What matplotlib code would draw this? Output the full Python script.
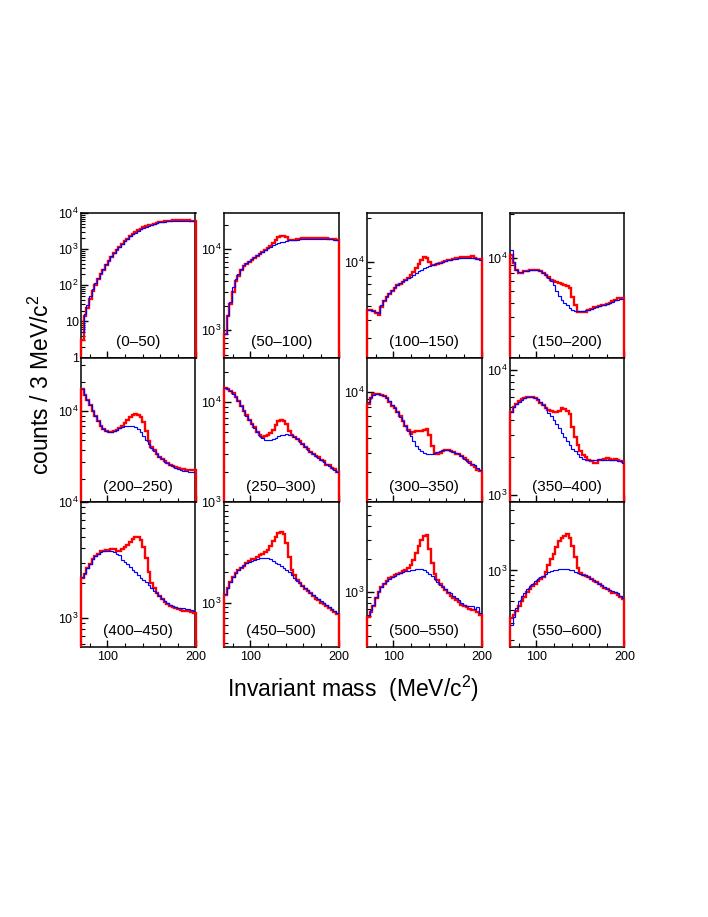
import numpy as np
import matplotlib
matplotlib.use("Agg")
import matplotlib.pyplot as plt
from matplotlib.ticker import FixedLocator, LogLocator, FuncFormatter, NullFormatter

plt.rcParams["font.family"] = ["Liberation Sans", "DejaVu Sans"]
plt.rcParams["mathtext.fontset"] = "custom"
plt.rcParams["mathtext.rm"] = "Liberation Sans"
plt.rcParams["mathtext.it"] = "Liberation Sans:italic"

# momentum bins (MeV/c), one panel each
labels = ["(0–50)", "(50–100)", "(100–150)", "(150–200)",
          "(200–250)", "(250–300)", "(300–350)", "(350–400)",
          "(400–450)", "(450–500)", "(500–550)", "(550–600)"]

# 43 mass bins from 70 to 200 MeV/c2, red = data, blue = background
red_0_50 = [3, 14, 24, 42, 70, 100, 145, 200, 270, 360, 470, 600, 760, 950, 1150, 1390, 1650, 1950, 2260,
            2600, 2950, 3350, 3700, 4000, 4250, 4520, 4800, 5050, 5300, 5550, 5700, 5850, 6000, 6150, 6250,
            6300, 6350, 6350, 6350, 6300, 6250, 6150, 5950]
blue_0_50 = [5, 16, 28, 50, 79, 112, 158, 214, 288, 380, 500, 630, 794, 977, 1175, 1410, 1660, 1950, 2240,
             2570, 2880, 3240, 3550, 3890, 4170, 4470, 4790, 5010, 5250, 5500, 5620, 5750, 5890, 6030, 6100,
             6170, 6170, 6170, 6170, 6170, 6100, 6030, 5890]

red_50_100 = [900, 1500, 2100, 3000, 4100, 4700, 5500, 6200, 6600, 7000, 7400, 7800, 8300, 8750, 9250, 9800,
              10400, 11000, 11800, 12800, 13900, 14500, 14600, 14000, 13100, 13000, 13100, 13300, 13500, 13600,
              13650, 13700, 13650, 13700, 13750, 13700, 13650, 13700, 13600, 13500, 13400, 13250, 13050]
blue_50_100 = [910, 1550, 2240, 3400, 4300, 5000, 5700, 6300, 6700, 7100, 7500, 7900, 8400, 8850, 9300, 9750,
               10200, 10700, 11100, 11500, 11800, 12100, 12400, 12600, 12850, 13000, 13050, 13100, 13180, 13250,
               13300, 13350, 13400, 13400, 13400, 13400, 13400, 13400, 13400, 13350, 13250, 13100, 12950]

red_100_150 = [4700, 4700, 4600, 4450, 4350, 4900, 5400, 5750, 6050, 6350, 6600, 6900, 7100, 7300, 7500, 7800,
               8100, 8500, 9000, 9700, 10300, 10700, 10600, 10000, 9500, 9500, 9700, 9850, 9950, 10100, 10250,
               10350, 10450, 10550, 10600, 10700, 10700, 10750, 10700, 10900, 10600, 10500, 10400]
blue_100_150 = [4700, 4680, 4620, 4560, 4480, 5100, 5500, 5800, 6100, 6400, 6700, 6950, 7150, 7350, 7500, 7700,
                7900, 8150, 8350, 8600, 8800, 9000, 9200, 9350, 9500, 9650, 9750, 9850, 9950, 10050, 10200,
                10300, 10400, 10500, 10550, 10600, 10650, 10650, 10650, 10600, 10550, 10450, 10350]

red_150_200 = [10500, 9300, 8400, 8000, 8000, 8150, 8250, 8350, 8400, 8400, 8300, 8200, 8000, 7750, 7450, 7150,
               7000, 6900, 6800, 6700, 6650, 6500, 6300, 5500, 4800, 4350, 4300, 4300, 4350, 4450, 4550, 4650,
               4700, 4750, 4800, 4850, 4900, 5000, 5150, 5250, 5350, 5400, 5350]
blue_150_200 = [11400, 9500, 8400, 8100, 8050, 8150, 8250, 8350, 8400, 8400, 8300, 8150, 7950, 7700, 7350, 7000,
                6600, 6000, 5600, 5200, 5000, 4800, 4600, 4450, 4400, 4400, 4400, 4420, 4450, 4480, 4550, 4630,
                4700, 4750, 4810, 4850, 4930, 5000, 5100, 5200, 5250, 5300, 5330]

red_200_250 = [17100, 14600, 13000, 11500, 10000, 8900, 7900, 7050, 6550, 6250, 6150, 6150, 6300, 6450, 6650,
               7000, 7600, 8100, 8700, 9200, 9300, 9250, 8700, 7700, 6200, 4900, 4300, 3950, 3650, 3400, 3200,
               3050, 2900, 2800, 2700, 2620, 2560, 2500, 2500, 2480, 2480, 2450, 2450]
blue_200_250 = [17100, 14600, 13000, 11500, 10000, 8900, 7900, 7050, 6550, 6250, 6150, 6150, 6300, 6450, 6650,
                6850, 7000, 7100, 7100, 7000, 6800, 6500, 6100, 5600, 5100, 4600, 4200, 3900, 3600, 3400, 3200,
                3000, 2900, 2780, 2680, 2600, 2530, 2470, 2420, 2390, 2370, 2370, 2360]

red_250_300 = [13900, 13600, 13000, 12300, 11200, 10300, 9200, 8100, 7400, 6700, 6100, 5600, 5000, 4650, 4500,
               4600, 4650, 4900, 5300, 5900, 6550, 6600, 6550, 6050, 5100, 4700, 4450, 4250, 4050, 3800, 3550,
               3400, 3200, 3050, 2900, 2800, 2650, 2550, 2350, 2350, 2200, 2150, 2000]
blue_250_300 = [13800, 13600, 13000, 12200, 11300, 10400, 9100, 8200, 7300, 6700, 6100, 5500, 5000, 4600, 4350,
                4200, 4180, 4200, 4300, 4400, 4550, 4650, 4750, 4800, 4750, 4650, 4450, 4250, 4000, 3800, 3550,
                3350, 3200, 3050, 2900, 2750, 2620, 2500, 2400, 2300, 2200, 2100, 1980]

red_300_350 = [8400, 9200, 9700, 9800, 9750, 9600, 9500, 9100, 8650, 8150, 7900, 7400, 6950, 6500, 6000, 5650,
               5300, 5500, 5600, 5550, 5550, 5650, 5700, 5200, 4400, 4000, 3950, 4000, 4100, 4150, 4150, 4100,
               4050, 3950, 3900, 3800, 3700, 3600, 3500, 3350, 3250, 3100, 3050]
blue_300_350 = [8600, 9270, 9600, 9750, 9750, 9600, 9450, 9100, 8700, 8200, 7900, 7400, 6900, 6450, 6000, 5550,
                5150, 4750, 4450, 4250, 4100, 4000, 3950, 3920, 3920, 3980, 4050, 4100, 4150, 4170, 4150, 4100,
                4050, 4000, 3900, 3800, 3650, 3550, 3450, 3380, 3300, 3200, 3100]

red_350_400 = [4600, 5000, 5300, 5600, 5800, 5950, 6100, 6100, 6000, 5900, 5700, 5450, 5200, 4900, 4750, 4650,
               4600, 4600, 4700, 4900, 4850, 4650, 4400, 3500, 2900, 2500, 2250, 2100, 2000, 1920, 1880, 1800,
               1790, 1900, 1900, 1950, 1980, 1950, 1920, 1950, 1900, 1880, 1850]
blue_350_400 = [4600, 5000, 5300, 5550, 5750, 5900, 6050, 6050, 6000, 5950, 5800, 5500, 5200, 4900, 4550, 4300,
                4000, 3700, 3400, 3100, 2900, 2700, 2500, 2350, 2250, 2120, 2000, 1940, 1910, 1900, 1900, 1890,
                1900, 1940, 1920, 1900, 1900, 1900, 1900, 1900, 1880, 1860, 1810]

red_400_450 = [2200, 2400, 2700, 2950, 3250, 3400, 3600, 3750, 3800, 3850, 3850, 3900, 3900, 3800, 3800, 3900,
               4100, 4300, 4550, 4800, 4950, 4950, 4700, 4100, 3300, 2500, 2000, 1800, 1650, 1560, 1450, 1380,
               1310, 1280, 1240, 1210, 1190, 1180, 1160, 1150, 1140, 1120, 1110]
blue_400_450 = [2260, 2450, 2700, 2950, 3200, 3400, 3580, 3700, 3770, 3820, 3820, 3780, 3700, 3600, 3480, 3180,
                3050, 2900, 2760, 2620, 2480, 2350, 2230, 2120, 2030, 1940, 1820, 1720, 1630, 1560, 1470, 1400,
                1340, 1300, 1270, 1250, 1230, 1220, 1210, 1200, 1190, 1170, 1160]

red_450_500 = [1180, 1380, 1600, 1800, 1950, 2100, 2200, 2300, 2450, 2550, 2650, 2700, 2800, 2900, 3000, 3100,
               3300, 3600, 4000, 4400, 4800, 4950, 4700, 3800, 2800, 2100, 1850, 1680, 1550, 1460, 1370, 1300,
               1230, 1150, 1080, 1050, 1000, 960, 920, 880, 850, 810, 770]
blue_450_500 = [1220, 1400, 1600, 1780, 1950, 2100, 2220, 2330, 2420, 2520, 2580, 2640, 2680, 2720, 2740, 2760,
                2740, 2650, 2550, 2450, 2370, 2260, 2180, 2100, 1980, 1880, 1740, 1640, 1550, 1460, 1380, 1320,
                1250, 1190, 1130, 1080, 1030, 985, 945, 910, 870, 830, 790]

red_500_550 = [590, 660, 750, 880, 1000, 1100, 1190, 1260, 1330, 1380, 1420, 1460, 1500, 1540, 1580, 1650, 1750,
               1950, 2250, 2600, 2950, 3250, 3300, 2450, 1850, 1450, 1300, 1180, 1100, 1040, 980, 930, 880, 850,
               810, 770, 740, 730, 700, 690, 690, 660, 614]
blue_500_550 = [614, 680, 770, 900, 1030, 1120, 1200, 1260, 1320, 1370, 1410, 1450, 1480, 1510, 1540, 1555, 1570,
                1590, 1610, 1620, 1630, 1580, 1520, 1460, 1400, 1320, 1240, 1170, 1110, 1060, 1010, 970, 930,
                890, 840, 800, 770, 750, 745, 740, 700, 730, 640]

red_550_600 = [336, 360, 395, 440, 490, 540, 610, 650, 700, 740, 790, 830, 860, 960, 1130, 1300, 1450, 1700, 1950,
               2100, 2200, 2290, 2100, 1750, 1350, 1050, 950, 910, 880, 860, 820, 790, 760, 730, 700, 670, 650,
               620, 600, 590, 570, 540, 513]
blue_550_600 = [288, 345, 420, 490, 550, 600, 660, 700, 740, 780, 815, 850, 880, 920, 955, 985, 1005, 1020, 1030,
                1040, 1040, 1025, 1015, 1000, 975, 950, 930, 910, 890, 865, 830, 800, 770, 740, 715, 690, 660,
                640, 620, 605, 590, 560, 533]

reds = [red_0_50, red_50_100, red_100_150, red_150_200, red_200_250, red_250_300,
        red_300_350, red_350_400, red_400_450, red_450_500, red_500_550, red_550_600]
blues = [blue_0_50, blue_50_100, blue_100_150, blue_150_200, blue_200_250, blue_250_300,
         blue_300_350, blue_350_400, blue_400_450, blue_450_500, blue_500_550, blue_550_600]

# y ranges of each panel (log axis)
y_ranges = [(1, 1e4), (464, 27800), (2220, 21500), (2130, 20300),
            (1150, 36000), (1000, 28100), (1900, 16900), (880, 12500),
            (569, 1e4), (370, 9700), (320, 6580), (174, 4820)]

edges = np.linspace(70, 200, 44)

W, H = 708, 917
fig = plt.figure(figsize=(W / 100, H / 100), dpi=100)
col_left = [81, 224, 367, 510]
row_top = [213, 357.5, 502]
pw, ph = 114.5, 144.5


def log_label(v, pos):
    if v == 1:
        return "1"
    if v == 10:
        return "10"
    return r"$10^{%d}$" % int(round(np.log10(v)))


for i in range(12):
    r, c = divmod(i, 4)
    ax = fig.add_axes([col_left[c] / W, 1 - (row_top[r] + ph) / H, pw / W, ph / H])
    ax.set_yscale("log")
    ymin, ymax = y_ranges[i]
    # red histogram drops to the frame at both ends and is drawn over it, like ROOT does
    ax.stairs(reds[i], edges, baseline=ymin, color="red", lw=1.7, zorder=4, clip_on=False)
    ax.stairs(blues[i], edges, baseline=None, color="blue", lw=0.85, zorder=5)
    ax.set_xlim(70, 200)
    ax.set_ylim(ymin, ymax)

    ax.xaxis.set_major_locator(FixedLocator([100, 200]))
    ax.xaxis.set_minor_locator(FixedLocator([80, 120, 140, 160, 180]))
    ax.yaxis.set_major_locator(LogLocator(base=10, numticks=10))
    ax.yaxis.set_minor_locator(LogLocator(base=10, subs=np.arange(2, 10), numticks=20))
    ax.yaxis.set_major_formatter(FuncFormatter(log_label))
    ax.yaxis.set_minor_formatter(NullFormatter())
    ax.tick_params(which="both", direction="in", top=False, right=False, labelsize=9)
    ax.tick_params(which="major", length=5, width=1)
    ax.tick_params(which="minor", length=2.6, width=0.8)
    ax.tick_params(axis="y", pad=1.5)
    ax.tick_params(axis="x", pad=3)
    if r < 2:
        ax.set_xticklabels([])
    for s in ax.spines.values():
        s.set_linewidth(1.1)

    ax.text(0.5, 0.105, labels[i], transform=ax.transAxes, ha="center", va="center", fontsize=11)

fig.text(41 / W, 1 - 385 / H, "counts / 3 MeV/c$^2$", rotation=90, ha="center", va="center", fontsize=16.5)
fig.text(353 / W, 1 - 689 / H, "Invariant mass  (MeV/c$^2$)", ha="center", va="center", fontsize=16.5)

fig.savefig("out.png", dpi=100)
